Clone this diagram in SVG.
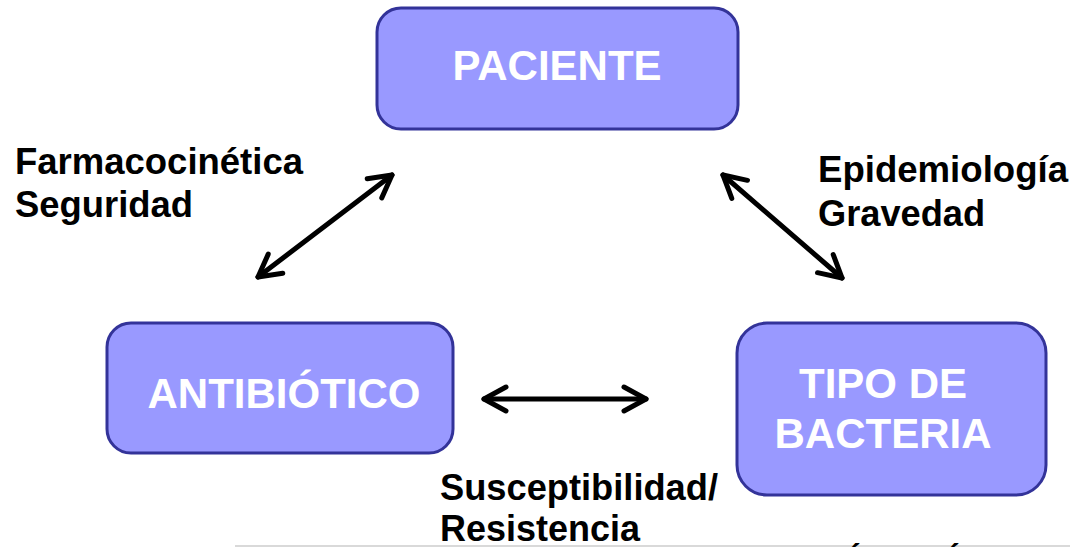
<svg xmlns="http://www.w3.org/2000/svg" width="1070" height="547" viewBox="0 0 1070 547">
  <style>
    .box { fill: #9999FF; stroke: #333399; stroke-width: 3; }
    .node-text { font-family: "Liberation Sans", Arial, sans-serif; font-weight: bold; font-size: 42px; fill: #FFFFFF; text-anchor: middle; }
    .label { font-family: "Liberation Sans", Arial, sans-serif; font-weight: bold; font-size: 36px; fill: #000000; }
    .conn { stroke: #000000; stroke-width: 5; stroke-linecap: round; fill: none; }
    .accent { font-family: "Liberation Sans", Arial, sans-serif; font-weight: bold; font-size: 32px; fill: #000000; }
  </style>
  <defs>
    <marker id="chev" markerUnits="userSpaceOnUse" orient="auto-start-reverse" refX="0" refY="0" markerWidth="40" markerHeight="40" viewBox="-30 -20 40 40" overflow="visible">
      <path d="M-22,-12 L0,0 L-22,12" fill="none" stroke="#000000" stroke-width="5" stroke-linecap="round" stroke-linejoin="round"/>
    </marker>
  </defs>
  <rect width="1070" height="547" fill="#FFFFFF"/>

  <g id="connectors">
    <line class="conn" x1="258" y1="277" x2="392" y2="175" marker-start="url(#chev)" marker-end="url(#chev)"/>
    <line class="conn" x1="723" y1="175" x2="842" y2="278" marker-start="url(#chev)" marker-end="url(#chev)"/>
    <line class="conn" x1="484" y1="399" x2="646" y2="399" marker-start="url(#chev)" marker-end="url(#chev)"/>
  </g>

  <g id="node-paciente">
    <rect class="box" x="377" y="8" width="361" height="121" rx="24"/>
    <text class="node-text" x="557" y="80">PACIENTE</text>
  </g>
  <g id="node-antibiotico">
    <rect class="box" x="107" y="323" width="346" height="130" rx="24"/>
    <text class="node-text" x="284" y="408">ANTIBIÓTICO</text>
  </g>
  <g id="node-bacteria">
    <rect class="box" x="737" y="323" width="309" height="172" rx="30"/>
    <text class="node-text" x="883" y="398">TIPO DE</text>
    <text class="node-text" x="883" y="448">BACTERIA</text>
  </g>

  <g id="labels">
    <text class="label" x="15" y="174" textLength="288" lengthAdjust="spacingAndGlyphs">Farmacocinética</text>
    <text class="label" x="15" y="217" textLength="178" lengthAdjust="spacingAndGlyphs">Seguridad</text>
    <text class="label" x="818" y="182" textLength="250" lengthAdjust="spacingAndGlyphs">Epidemiología</text>
    <text class="label" x="818" y="226" textLength="167" lengthAdjust="spacingAndGlyphs">Gravedad</text>
    <text class="label" x="440" y="500" textLength="278" lengthAdjust="spacingAndGlyphs">Susceptibilidad/</text>
    <text class="label" x="440" y="541" textLength="200" lengthAdjust="spacingAndGlyphs">Resistencia</text>
  </g>

  <line x1="235" y1="546" x2="1070" y2="546" stroke="#CCCCCC" stroke-width="1.5"/>
  <text class="accent" x="850" y="566">´</text>
  <text class="accent" x="949" y="566">´</text>
</svg>
